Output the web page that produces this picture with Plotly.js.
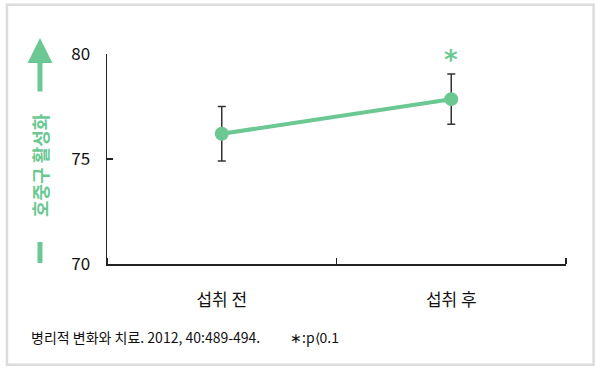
<!DOCTYPE html>
<html><head><meta charset="utf-8">
<script src="https://cdn.plot.ly/plotly-3.0.1.min.js"></script>
<style>html,body{margin:0;padding:0;background:#fff}#c{width:600px;height:370px}</style>
</head><body><div id="c"></div>
<script>
const categories = ['섭취 전', '섭취 후'];
const values = [76.2, 77.85];
const errors = [1.3, 1.2];
const yTicks = [70, 75, 80];
const yLabel = '호중구 활성화';
const significance = ['', '*'];
const source = '병리적 변화와 치료. 2012, 40:489-494.';
const note = '∗:p⟨0.1';

const green = '#6cc893';
const font = "'Noto Sans CJK KR', 'Noto Sans', sans-serif";
const xIdx = categories.map((_, i) => i);
const boundaries = [-0.5].concat(xIdx.map(i => i + 0.5));

const trace = {
  type: 'scatter', mode: 'lines+markers',
  x: xIdx, y: values,
  line: {color: green, width: 4},
  marker: {color: green, size: 14},
  error_y: {type: 'data', array: errors, visible: true, color: '#333', thickness: 1.5, width: 4},
  hoverinfo: 'none', cliponaxis: false
};

const annotations = [];
significance.forEach((s, i) => {
  if (s) annotations.push({x: xIdx[i], y: values[i] + errors[i], xref: 'x', yref: 'y', text: '<b>' + s + '</b>',
    showarrow: false, yanchor: 'middle', yshift: 14, font: {family: 'DejaVu Sans', size: 26, color: green}});
});
annotations.push({x: -0.146, y: 0.471, xref: 'paper', yref: 'paper', xanchor: 'center', yanchor: 'middle',
  text: '<b>' + yLabel + '</b>', textangle: -90, showarrow: false, font: {family: font, size: 18, color: green}});
annotations.push({x: -0.146, y: 1.076, xref: 'paper', yref: 'paper', ax: 0, ay: 55, text: '',
  showarrow: true, arrowhead: 2, arrowsize: 1, arrowwidth: 5, arrowcolor: green});
annotations.push({x: 0.0, y: -0.348, xref: 'paper', yref: 'paper', xanchor: 'left', yanchor: 'middle', text: source,
  showarrow: false, xshift: -78, font: {family: font, size: 14, color: '#111'}});
annotations.push({x: 0.395, y: -0.348, xref: 'paper', yref: 'paper', xanchor: 'left', yanchor: 'middle', text: note,
  showarrow: false, font: {family: font, size: 14, color: '#111'}});

const layout = {
  width: 600, height: 370,
  margin: {l: 107, r: 34, t: 54, b: 106},
  paper_bgcolor: '#fff', plot_bgcolor: '#fff',
  showlegend: false,
  font: {family: font, color: '#111'},
  xaxis: {range: [-0.5, 1.5], tickvals: xIdx, ticktext: categories, ticks: '',
    minor: {tickvals: boundaries, ticks: 'inside', ticklen: 6, tickcolor: '#222', tickwidth: 1.5, showgrid: false},
    showline: true, linecolor: '#222', linewidth: 1.5,
    showgrid: false, zeroline: false, ticklabelstandoff: 20, tickfont: {family: font, size: 17, color: '#111'}},
  yaxis: {range: [70, 80], tickvals: yTicks, ticks: 'inside', ticklen: 6, tickcolor: '#222', tickwidth: 1.5,
    showline: true, linecolor: '#222', linewidth: 1.5, showgrid: false, zeroline: false,
    ticklabelstandoff: 12, tickfont: {family: font, size: 17, color: '#111'}},
  annotations: annotations,
  shapes: [
    {type: 'rect', xref: 'paper', yref: 'paper', x0: -0.218, x1: 1.06, y0: -0.48, y1: 1.235,
      line: {color: '#dcdcdc', width: 2.5}, fillcolor: 'rgba(0,0,0,0)'},
    {type: 'line', xref: 'paper', yref: 'paper', x0: -0.146, x1: -0.146, y0: 0.005, y1: 0.105,
      line: {color: green, width: 5}}
  ]
};

Plotly.newPlot('c', [trace], layout, {staticPlot: true, displayModeBar: false});
</script></body></html>
